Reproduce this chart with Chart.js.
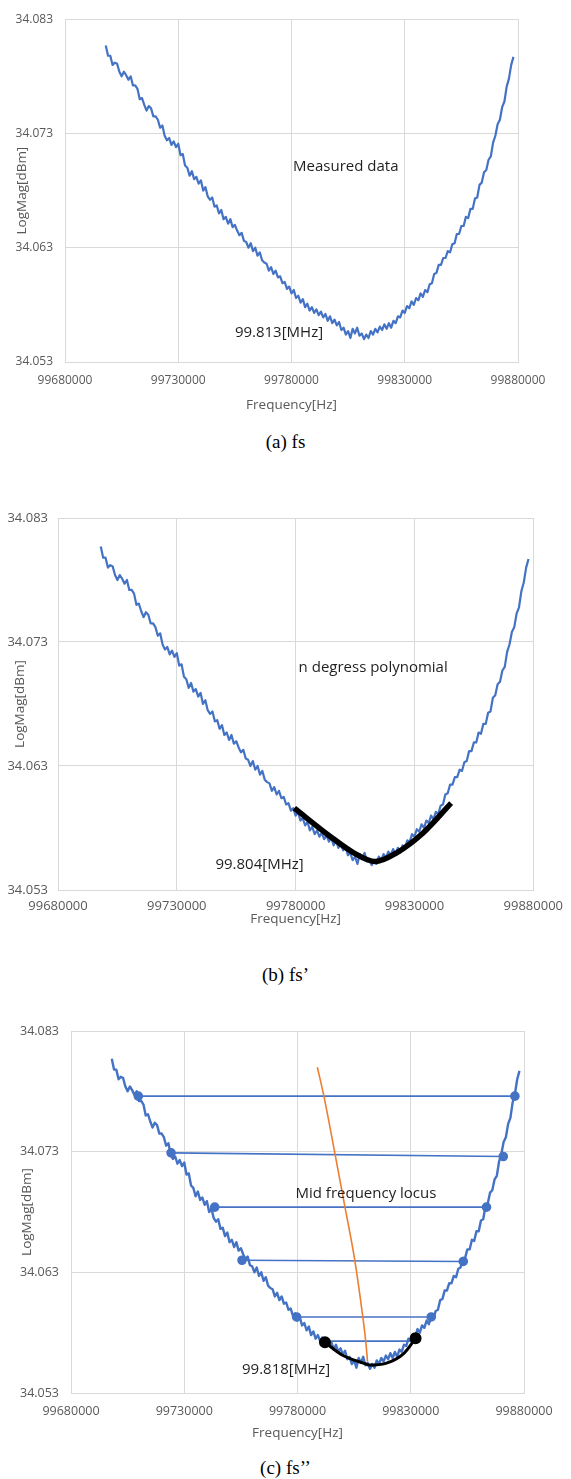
<!DOCTYPE html>
<html><head><meta charset="utf-8">
<script src="https://cdn.jsdelivr.net/npm/chart.js@4.4.1/dist/chart.umd.min.js"></script>
<style>
html,body{margin:0;padding:0;background:#fff;}
body{width:571px;height:1479px;position:relative;overflow:hidden;}
canvas{position:absolute;left:0;}
.cap{position:absolute;left:0;width:571px;text-align:center;font-family:"Liberation Serif","Times New Roman",serif;font-size:19px;color:#000;line-height:20px;z-index:2;}
</style></head><body>
<canvas id="ca" width="571" height="420" style="top:0px"></canvas>
<div class="cap" style="top:432px">(a) fs</div>
<canvas id="cb" width="571" height="470" style="top:470px"></canvas>
<div class="cap" style="top:965px">(b) fs’</div>
<canvas id="cc" width="571" height="450" style="top:1000px"></canvas>
<div class="cap" style="top:1458px">(c) fs’’</div>
<script>
// ---- axis ticks ----
const xTickValues = [99680000, 99730000, 99780000, 99830000, 99880000];
const xTickLabels = ['99680000', '99730000', '99780000', '99830000', '99880000'];
const yTickValues = [34.053, 34.063, 34.073, 34.083];
const yTickLabels = ['34.053', '34.063', '34.073', '34.083'];
const xAxisTitle = 'Frequency[Hz]';
const yAxisTitle = 'LogMag[dBm]';

// ---- measured data (same sweep in all three panels) ----
const measFreq = [
 99698000,99699000,99700000,99701000,99702000,99703000,99704000,99705000,99706000,99707000,
 99708000,99709000,99710000,99711000,99712000,99713000,99714000,99715000,99716000,99717000,
 99718000,99719000,99720000,99721000,99722000,99723000,99724000,99725000,99726000,99727000,
 99728000,99729000,99730000,99731000,99732000,99733000,99734000,99735000,99736000,99737000,
 99738000,99739000,99740000,99741000,99742000,99743000,99744000,99745000,99746000,99747000,
 99748000,99749000,99750000,99751000,99752000,99753000,99754000,99755000,99756000,99757000,
 99758000,99759000,99760000,99761000,99762000,99763000,99764000,99765000,99766000,99767000,
 99768000,99769000,99770000,99771000,99772000,99773000,99774000,99775000,99776000,99777000,
 99778000,99779000,99780000,99781000,99782000,99783000,99784000,99785000,99786000,99787000,
 99788000,99789000,99790000,99791000,99792000,99793000,99794000,99795000,99796000,99797000,
 99798000,99799000,99800000,99801000,99802000,99803000,99804000,99805000,99806000,99807000,
 99808000,99809000,99810000,99811000,99812000,99813000,99814000,99815000,99816000,99817000,
 99818000,99819000,99820000,99821000,99822000,99823000,99824000,99825000,99826000,99827000,
 99828000,99829000,99830000,99831000,99832000,99833000,99834000,99835000,99836000,99837000,
 99838000,99839000,99840000,99841000,99842000,99843000,99844000,99845000,99846000,99847000,
 99848000,99849000,99850000,99851000,99852000,99853000,99854000,99855000,99856000,99857000,
 99858000,99859000,99860000,99861000,99862000,99863000,99864000,99865000,99866000,99867000,
 99868000,99869000,99870000,99871000,99872000,99873000,99874000,99875000,99876000,99877000,
 99878000];
const measMag = [
 34.0807,34.0798,34.0798,34.0790,34.0792,34.0791,34.0784,34.0780,34.0784,34.0781,
 34.0777,34.0780,34.0772,34.0772,34.0769,34.0760,34.0761,34.0755,34.0750,34.0754,
 34.0752,34.0745,34.0745,34.0742,34.0735,34.0737,34.0728,34.0724,34.0726,34.0720,
 34.0723,34.0718,34.0721,34.0711,34.0712,34.0702,34.0700,34.0693,34.0697,34.0690,
 34.0692,34.0686,34.0689,34.0680,34.0683,34.0675,34.0672,34.0674,34.0666,34.0667,
 34.0660,34.0663,34.0655,34.0657,34.0651,34.0655,34.0648,34.0650,34.0645,34.0641,
 34.0643,34.0636,34.0635,34.0630,34.0634,34.0627,34.0630,34.0623,34.0626,34.0619,
 34.0617,34.0616,34.0610,34.0613,34.0607,34.0610,34.0604,34.0605,34.0599,34.0600,
 34.0594,34.0596,34.0590,34.0593,34.0586,34.0588,34.0582,34.0585,34.0578,34.0581,
 34.0575,34.0578,34.0573,34.0576,34.0571,34.0574,34.0569,34.0572,34.0566,34.0570,
 34.0564,34.0567,34.0562,34.0565,34.0558,34.0560,34.0554,34.0557,34.0551,34.0559,
 34.0555,34.0560,34.0553,34.0555,34.0550,34.0554,34.0551,34.0557,34.0554,34.0559,
 34.0556,34.0561,34.0558,34.0563,34.0559,34.0564,34.0560,34.0566,34.0564,34.0570,
 34.0569,34.0575,34.0573,34.0579,34.0577,34.0583,34.0580,34.0586,34.0584,34.0590,
 34.0587,34.0593,34.0591,34.0598,34.0599,34.0607,34.0608,34.0615,34.0615,34.0621,
 34.0621,34.0627,34.0626,34.0633,34.0634,34.0642,34.0642,34.0649,34.0649,34.0657,
 34.0656,34.0664,34.0664,34.0673,34.0674,34.0685,34.0687,34.0696,34.0698,34.0707,
 34.0710,34.0722,34.0728,34.0738,34.0742,34.0753,34.0758,34.0771,34.0778,34.0790,
 34.0797];

// ---- (b) n-degree polynomial fit ----
const fitFreq = [99779460, 99794710, 99804460, 99813460, 99822500, 99833630, 99845420];
const fitMag  = [34.0596, 34.0573, 34.0560, 34.0553, 34.0560, 34.0576, 34.0600];

// ---- (c) equal-level chords ----
const chordLeftFreq  = [99709720, 99724180, 99743450, 99755500, 99779600, 99792130];
const chordRightFreq = [99875980, 99870840, 99863450, 99853170, 99839040, 99832130];
const chordLeftMag   = [34.0776, 34.0729, 34.0684, 34.0640, 34.0593, 34.0573];
const chordRightMag  = [34.0776, 34.0726, 34.0684, 34.0639, 34.0593, 34.0573];
// mid frequency locus
const locusFreq = [99788755, 99791650, 99796470, 99800960, 99805300, 99808840, 99810120, 99810920];
const locusMag  = [34.0800, 34.0776, 34.0729, 34.0684, 34.0640, 34.0593, 34.0573, 34.0556];
// bottom fit in (c)
const bottomFreq = [99792130, 99799680, 99809320, 99811730, 99818960, 99826990, 99832130];
const bottomMag  = [34.0572, 34.05615, 34.05546, 34.05532, 34.05546, 34.05629, 34.05753];

// ---- annotations ----
const notesAText = ['Measured data', '99.813[MHz]'];
const notesAFreq = [99780700, 99755000];
const notesAMag  = [34.0701, 34.0556];
const notesBText = ['n degress polynomial', '99.804[MHz]'];
const notesBFreq = [99781250, 99746250];
const notesBMag  = [34.0709, 34.0550];
const notesCText = ['Mid frequency locus', '99.818[MHz]'];
const notesCFreq = [99779120, 99755500];
const notesCMag  = [34.0695, 34.0549];

const BLUE = '#4472C4', ORANGE = '#ED7D31', GRID = '#d9d9d9', TXT = '#595959';
const FONT = '"Open Sans", "DejaVu Sans", sans-serif';

const pts = (xs, ys) => xs.map((x, i) => ({x: x, y: ys[i]}));
const notes = (t, xs, ys) => t.map((s, i) => ({text: s, x: xs[i], y: ys[i]}));

const notePlugin = {
  id: 'notes',
  afterDatasetsDraw(chart, args, opts) {
    const ctx = chart.ctx, x = chart.scales.x, y = chart.scales.y;
    ctx.save();
    ctx.font = opts.font; ctx.fillStyle = opts.color;
    ctx.textBaseline = 'middle'; ctx.textAlign = 'left';
    (opts.items || []).forEach(it => ctx.fillText(it.text, x.getPixelForValue(it.x), y.getPixelForValue(it.y)));
    ctx.restore();
  }
};

function measuredSet(w) {
  return {data: pts(measFreq, measMag), showLine: true, borderColor: BLUE, borderWidth: w,
          pointRadius: 0, tension: 0, order: 10, borderJoinStyle: 'round'};
}

function build(id, L, datasets, items) {
  return new Chart(document.getElementById(id), {
    type: 'scatter',
    data: {datasets: datasets},
    options: {
      responsive: false, animation: false, devicePixelRatio: 1,
      layout: {padding: {left: 0, top: L.pt, right: L.pr, bottom: L.pb}},
      plugins: {legend: {display: false}, tooltip: {enabled: false},
                notes: {items: items, font: '15px ' + FONT, color: '#1f1f1f'}},
      scales: {
        x: {type: 'linear', min: xTickValues[0], max: xTickValues[xTickValues.length - 1],
            afterBuildTicks: s => { s.ticks = xTickValues.map(v => ({value: v})); },
            afterFit: s => { s.height = L.xh; },
            grid: {color: GRID, lineWidth: 1, drawTicks: false},
            border: {color: GRID, width: 1},
            ticks: {padding: L.xtp, maxRotation: 0, minRotation: 0, autoSkip: false, color: TXT,
                    font: {family: FONT, size: L.tf}, callback: (v, i) => xTickLabels[i]},
            title: {display: true, text: xAxisTitle, color: TXT, font: {family: FONT, size: 13.5},
                    padding: {top: 0, bottom: 0}}},
        y: {type: 'linear', min: yTickValues[0], max: yTickValues[yTickValues.length - 1],
            afterBuildTicks: s => { s.ticks = yTickValues.map(v => ({value: v})); },
            afterFit: s => { s.width = L.yw; },
            grid: {color: GRID, lineWidth: 1, drawTicks: false},
            border: {color: GRID, width: 1},
            ticks: {padding: L.ytp, color: TXT, font: {family: FONT, size: L.tf},
                    callback: (v, i) => yTickLabels[i]},
            title: {display: true, text: yAxisTitle, color: TXT, font: {family: FONT, size: 13.5},
                    padding: {top: L.ytt, bottom: 0}}}
      }
    },
    plugins: [notePlugin]
  });
}

// (a)
build('ca', {pt: 15, pr: 53, pb: 7, xh: 51, yw: 65, tf: 12, xtp: 11, ytp: 12, ytt: 14},
  [measuredSet(2.2)], notes(notesAText, notesAFreq, notesAMag));

// (b)
build('cb', {pt: 48, pr: 33, pb: 13, xh: 37, yw: 58, tf: 13, xtp: 8, ytp: 10, ytt: 12},
  [measuredSet(2.2),
   {data: pts(fitFreq, fitMag), showLine: true, borderColor: '#000', borderWidth: 5.5, pointRadius: 0,
    cubicInterpolationMode: 'monotone', borderCapStyle: 'butt', order: 1}],
  notes(notesBText, notesBFreq, notesBMag));

// (c)
const chordSets = chordLeftFreq.map((f, i) => ({
  data: [{x: f, y: chordLeftMag[i]}, {x: chordRightFreq[i], y: chordRightMag[i]}],
  showLine: true, borderColor: BLUE, borderWidth: 1.6,
  pointRadius: i < chordLeftFreq.length - 1 ? 4 : 0,
  pointBackgroundColor: BLUE, pointBorderColor: BLUE, order: 5
}));
build('cc', {pt: 31, pr: 47, pb: 9, xh: 48, yw: 71, tf: 12.5, xtp: 11, ytp: 12, ytt: 19},
  [measuredSet(2.4)].concat(chordSets, [
   {data: pts(locusFreq, locusMag), showLine: true, borderColor: ORANGE, borderWidth: 1.6,
    pointRadius: 0, cubicInterpolationMode: 'monotone', order: 2},
   {data: pts(bottomFreq, bottomMag), showLine: true, borderColor: '#000', borderWidth: 3,
    pointRadius: bottomFreq.map((f, i) => (i === 0 || i === bottomFreq.length - 1) ? 4.5 : 0),
    pointBackgroundColor: '#000', pointBorderColor: '#000',
    cubicInterpolationMode: 'monotone', order: 1}]),
  notes(notesCText, notesCFreq, notesCMag));
</script>
</body></html>
